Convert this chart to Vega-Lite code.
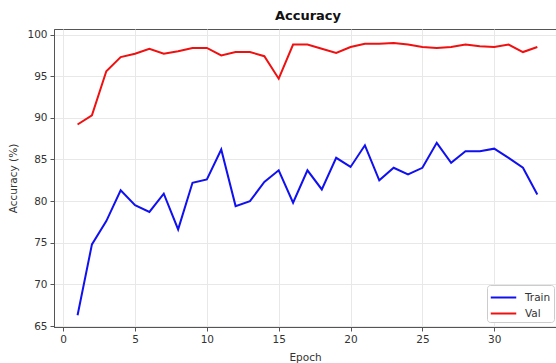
{
  "$schema": "https://vega.github.io/schema/vega-lite/v6.json",
  "autosize": {"type": "none"},
  "width": 502,
  "height": 298,
  "padding": {"left": 54, "top": 29, "right": 0, "bottom": 36},
  "background": "white",
  "config": {
    "font": "DejaVu Sans",
    "view": {"stroke": "#555", "strokeWidth": 1},
    "axis": {
      "labelFont": "DejaVu Sans",
      "titleFont": "DejaVu Sans",
      "labelFontSize": 10.5,
      "titleFontSize": 10.5,
      "labelColor": "#333",
      "titleColor": "#333",
      "titleFontWeight": "normal",
      "domainColor": "#555",
      "tickColor": "#555",
      "tickSize": 4,
      "gridColor": "#e8e8e8",
      "gridWidth": 1
    }
  },
  "title": {
    "text": "Accuracy",
    "font": "DejaVu Sans",
    "fontSize": 13,
    "fontWeight": "bold",
    "color": "#111",
    "anchor": "middle",
    "offset": 6,
    "dx": 3
  },
  "data": {
    "values": [
      {"epoch": 1, "acc": 66.3, "series": "Train"},
      {"epoch": 2, "acc": 74.8, "series": "Train"},
      {"epoch": 3, "acc": 77.6, "series": "Train"},
      {"epoch": 4, "acc": 81.3, "series": "Train"},
      {"epoch": 5, "acc": 79.5, "series": "Train"},
      {"epoch": 6, "acc": 78.7, "series": "Train"},
      {"epoch": 7, "acc": 80.9, "series": "Train"},
      {"epoch": 8, "acc": 76.6, "series": "Train"},
      {"epoch": 9, "acc": 82.2, "series": "Train"},
      {"epoch": 10, "acc": 82.6, "series": "Train"},
      {"epoch": 11, "acc": 86.2, "series": "Train"},
      {"epoch": 12, "acc": 79.4, "series": "Train"},
      {"epoch": 13, "acc": 80.0, "series": "Train"},
      {"epoch": 14, "acc": 82.3, "series": "Train"},
      {"epoch": 15, "acc": 83.7, "series": "Train"},
      {"epoch": 16, "acc": 79.8, "series": "Train"},
      {"epoch": 17, "acc": 83.7, "series": "Train"},
      {"epoch": 18, "acc": 81.4, "series": "Train"},
      {"epoch": 19, "acc": 85.2, "series": "Train"},
      {"epoch": 20, "acc": 84.1, "series": "Train"},
      {"epoch": 21, "acc": 86.7, "series": "Train"},
      {"epoch": 22, "acc": 82.5, "series": "Train"},
      {"epoch": 23, "acc": 84.0, "series": "Train"},
      {"epoch": 24, "acc": 83.2, "series": "Train"},
      {"epoch": 25, "acc": 84.0, "series": "Train"},
      {"epoch": 26, "acc": 87.0, "series": "Train"},
      {"epoch": 27, "acc": 84.6, "series": "Train"},
      {"epoch": 28, "acc": 86.0, "series": "Train"},
      {"epoch": 29, "acc": 86.0, "series": "Train"},
      {"epoch": 30, "acc": 86.3, "series": "Train"},
      {"epoch": 31, "acc": 85.2, "series": "Train"},
      {"epoch": 32, "acc": 84.0, "series": "Train"},
      {"epoch": 33, "acc": 80.8, "series": "Train"},
      {"epoch": 1, "acc": 89.2, "series": "Val"},
      {"epoch": 2, "acc": 90.3, "series": "Val"},
      {"epoch": 3, "acc": 95.6, "series": "Val"},
      {"epoch": 4, "acc": 97.3, "series": "Val"},
      {"epoch": 5, "acc": 97.7, "series": "Val"},
      {"epoch": 6, "acc": 98.3, "series": "Val"},
      {"epoch": 7, "acc": 97.7, "series": "Val"},
      {"epoch": 8, "acc": 98.0, "series": "Val"},
      {"epoch": 9, "acc": 98.4, "series": "Val"},
      {"epoch": 10, "acc": 98.4, "series": "Val"},
      {"epoch": 11, "acc": 97.5, "series": "Val"},
      {"epoch": 12, "acc": 97.9, "series": "Val"},
      {"epoch": 13, "acc": 97.9, "series": "Val"},
      {"epoch": 14, "acc": 97.4, "series": "Val"},
      {"epoch": 15, "acc": 94.7, "series": "Val"},
      {"epoch": 16, "acc": 98.8, "series": "Val"},
      {"epoch": 17, "acc": 98.8, "series": "Val"},
      {"epoch": 18, "acc": 98.3, "series": "Val"},
      {"epoch": 19, "acc": 97.8, "series": "Val"},
      {"epoch": 20, "acc": 98.5, "series": "Val"},
      {"epoch": 21, "acc": 98.9, "series": "Val"},
      {"epoch": 22, "acc": 98.9, "series": "Val"},
      {"epoch": 23, "acc": 99.0, "series": "Val"},
      {"epoch": 24, "acc": 98.8, "series": "Val"},
      {"epoch": 25, "acc": 98.5, "series": "Val"},
      {"epoch": 26, "acc": 98.4, "series": "Val"},
      {"epoch": 27, "acc": 98.5, "series": "Val"},
      {"epoch": 28, "acc": 98.8, "series": "Val"},
      {"epoch": 29, "acc": 98.6, "series": "Val"},
      {"epoch": 30, "acc": 98.5, "series": "Val"},
      {"epoch": 31, "acc": 98.8, "series": "Val"},
      {"epoch": 32, "acc": 97.9, "series": "Val"},
      {"epoch": 33, "acc": 98.5, "series": "Val"}
    ]
  },
  "mark": {"type": "line", "strokeWidth": 2, "clip": true},
  "encoding": {
    "x": {
      "field": "epoch",
      "type": "quantitative",
      "title": "Epoch",
      "scale": {"domain": [-0.64, 34.3], "nice": false, "zero": false},
      "axis": {"values": [0, 5, 10, 15, 20, 25, 30], "titlePadding": 8, "labelPadding": 3}
    },
    "y": {
      "field": "acc",
      "type": "quantitative",
      "title": "Accuracy (%)",
      "scale": {"domain": [64.88, 100.67], "nice": false, "zero": false},
      "axis": {"values": [65, 70, 75, 80, 85, 90, 95, 100], "titlePadding": 8, "labelPadding": 3}
    },
    "color": {
      "field": "series",
      "type": "nominal",
      "scale": {"domain": ["Train", "Val"], "range": ["#1010f0", "#f01010"]},
      "legend": {
        "title": null,
        "orient": "none",
        "legendX": 433,
        "legendY": 256,
        "symbolType": "M-1.5,0H1.5",
        "symbolStrokeWidth": 2,
        "symbolSize": 289,
        "symbolOffset": 4,
        "labelFont": "DejaVu Sans",
        "labelFontSize": 10.5,
        "labelColor": "#333",
        "labelOffset": 12,
        "fillColor": "white",
        "strokeColor": "#ccc",
        "cornerRadius": 3,
        "padding": 3,
        "rowPadding": 1
      }
    }
  }
}
